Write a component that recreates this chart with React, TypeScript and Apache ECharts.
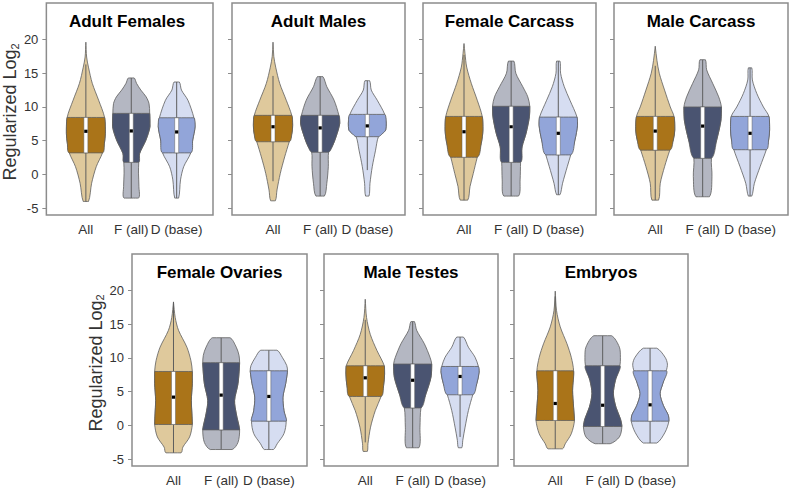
import React, { useEffect, useRef } from "react";
import * as echarts from "echarts";

const PANEL_TITLES = ["Adult Females", "Adult Males", "Female Carcass", "Male Carcass", "Female Ovaries", "Male Testes", "Embryos"];
const CATEGORIES = ["All", "F (all)", "D (base)"];
const Y_TICKS = [-5, 0, 5, 10, 15, 20];
const X_TICKS = [1, 2, 3];
const Y_NAME_PANELS = [0, 4];

// per panel: [All, F (all), D (base)]
const Q1 = [[3.2, 1.8, 3.2], [4.85, 3.3, 5.6], [2.55, 1.8, 2.9], [3.6, 2.4, 3.67], [0.15, -0.65, 0.64], [4.3, 2.6, 4.55], [0.74, -0.15, 0.64]];
const MEDIAN = [[6.4, 6.45, 6.3], [7.07, 6.9, 7.2], [6.33, 7.07, 6.1], [6.43, 7.17, 6.1], [4.2, 4.5, 4.3], [7.06, 6.7, 7.26], [3.26, 3.0, 3.06]];
const Q3 = [[8.45, 9.05, 8.4], [8.76, 8.76, 8.9], [8.6, 10.1, 8.5], [8.6, 10.0, 8.6], [8.0, 9.3, 8.1], [8.84, 9.1, 8.74], [8.1, 8.84, 8.1]];
const WHISKER_LOW = [[-4.0, -3.5, -3.5], [-1.0, -3.2, 0.65], [-3.8, -3.2, -3.0], [-3.8, -3.3, -3.2], [-4.05, -3.56, -3.56], [-2.5, -3.3, -1.7], [-3.46, -2.7, -2.6]];
const WHISKER_HIGH = [[16.3, 14.3, 13.7], [14.6, 14.5, 13.9], [17.7, 16.8, 16.8], [16.1, 17.0, 15.8], [18.3, 13.0, 11.15], [15.65, 15.4, 13.1], [19.1, 13.3, 11.45]];

// violin density profiles: [value, density]
const ADULT_FEMALES = [
  [[-4.0, 2.7], [-1.3, 6], [1.15, 10.8], [3.2, 17.3], [4.6, 19.3], [6.1, 20.3], [8.45, 19.5], [11, 13.3], [13.5, 6.7], [15.9, 2.7], [17.4, 0.8], [19.6, 0]],
  [[-3.5, 7.5], [-1.8, 8], [0.2, 7.5], [1.8, 7.8], [3.1, 8.7], [5.1, 15.3], [7.1, 19.5], [9.05, 19.2], [10.5, 18.5], [11.5, 15.5], [12.5, 10], [13.5, 5.5], [14.3, 3]],
  [[-3.5, 2], [-0.8, 4], [1.15, 7.3], [3.2, 14.7], [5.1, 16.7], [7.1, 19.2], [8.4, 18], [11, 11.7], [12.5, 5], [13.7, 2.7]],
];
const ADULT_MALES = [
  [[-3.9, 2.3], [-2.3, 4], [0.15, 7.3], [2.6, 11.7], [4.85, 16.3], [6.1, 19], [7.3, 19.7], [8.76, 18.8], [11, 13.3], [13.5, 6.7], [15.9, 2.7], [17.5, 0.8], [19.6, 0]],
  [[-3.2, 4.2], [-1.3, 6.7], [1.15, 8.2], [3.3, 8.5], [4.1, 12], [5.6, 16], [7.6, 19.7], [8.76, 18.8], [11, 14], [13, 6.7], [14.5, 2.7]],
  [[-3.2, 1.7], [-1.3, 2.7], [1.15, 5], [3.6, 8.3], [5.6, 11.2], [6.1, 15.5], [6.6, 18.5], [7.6, 19], [8.9, 17.5], [11, 10], [12.5, 4], [13.9, 2.3]],
];
const FEMALE_CARCASS = [
  [[-3.8, 3.7], [-1.8, 6], [0.15, 9.3], [2.55, 13.3], [4.6, 17.3], [6.6, 19], [8.6, 18.3], [11, 13.3], [13.5, 7.3], [15.9, 2.7], [17.9, 1], [19.4, 0]],
  [[-3.2, 7.3], [-0.8, 9], [1.8, 9.5], [4.1, 11], [6.1, 15], [8.55, 18.3], [10.1, 18.7], [11.5, 16.7], [13, 11.7], [15, 4.7], [16.8, 2.7]],
  [[-3.0, 1.7], [-1.3, 4.3], [1.15, 9], [2.9, 12.5], [5.1, 16.7], [7.3, 19.3], [8.5, 18.8], [11, 11.7], [13, 6], [15, 2.3], [16.8, 1.7]],
];
const MALE_CARCASS = [
  [[-3.8, 3.3], [-1.3, 5], [1.15, 9.3], [3.6, 14.5], [5.1, 18], [6.6, 19.5], [8.6, 18.7], [10, 15], [12.5, 9.3], [15, 4], [16.9, 1.7], [19.0, 0]],
  [[-3.3, 6.7], [-0.3, 9.3], [2.4, 8.8], [5.1, 14], [8.06, 18.3], [10, 18.7], [11.5, 16], [13.5, 10], [15.5, 4], [17.0, 2.7]],
  [[-3.2, 1.7], [-1.3, 4.3], [1.15, 10], [3.67, 16.2], [5.1, 18.5], [6.6, 19.5], [8.6, 18.8], [10, 13.3], [12, 6.7], [14, 2.3], [15.8, 1.7]],
];
const FEMALE_OVARIES = [
  [[-4.05, 7.5], [-3.2, 9.3], [-1.7, 16], [0.15, 18.7], [1.73, 18.3], [3.7, 17.7], [6.2, 18.7], [8.0, 18.7], [9.6, 17.3], [11.6, 13.3], [14.1, 5], [16.0, 1.7], [18.3, 0]],
  [[-3.56, 10.8], [-2.5, 16.7], [-0.65, 18.3], [1.73, 15], [3.7, 13.3], [6.2, 16.7], [9.3, 18.3], [10.4, 17.7], [11.6, 15], [13.0, 8.7]],
  [[-3.56, 4.5], [-2.7, 8.3], [-1.2, 15], [0.64, 17.2], [2.2, 15], [4.2, 14], [6.2, 16.7], [8.1, 18.5], [8.9, 17.7], [10.1, 13.3], [11.15, 8]],
];
const MALE_TESTES = [
  [[-3.85, 2], [-2.7, 2.7], [-0.25, 5.3], [2.2, 10], [4.3, 15.8], [5.9, 18.3], [7.6, 19.3], [8.84, 19], [11.1, 11.7], [13.5, 5], [16.0, 1.3], [18.7, 0]],
  [[-3.3, 6.2], [-0.25, 7.3], [2.6, 8.3], [4.7, 13.3], [7.16, 18.3], [9.1, 19], [10.1, 17.3], [12.1, 11.7], [14.1, 4], [15.4, 1.7]],
  [[-3.3, 1.7], [-2.2, 2.7], [-0.25, 5], [2.2, 8.3], [4.55, 12.7], [6.2, 16.7], [7.9, 19], [8.74, 18.3], [10.1, 15], [11.6, 8.3], [13.1, 3.3]],
];
const EMBRYOS = [
  [[-3.46, 7.2], [-2.7, 10], [-1.23, 16], [0.74, 19.2], [2.7, 18.3], [5.2, 17.3], [8.1, 18.3], [10.1, 16], [12.1, 11.7], [14.6, 5], [17.0, 1.3], [19.9, 0]],
  [[-2.7, 7.5], [-1.7, 16.7], [-0.15, 19.2], [1.0, 17.7], [2.7, 13.3], [4.7, 10.7], [6.67, 12.7], [8.84, 17.2], [10.1, 17.7], [11.6, 16.7], [13.3, 8.8]],
  [[-2.6, 6.7], [-0.99, 15], [0.64, 18.8], [1.48, 18.3], [2.96, 13.3], [4.7, 10], [6.2, 12.7], [8.1, 16.2], [9.1, 17.3], [10.1, 15], [11.45, 6.7]],
];
const PROFILES = [ADULT_FEMALES, ADULT_MALES, FEMALE_CARCASS, MALE_CARCASS, FEMALE_OVARIES, MALE_TESTES, EMBRYOS];

// styling / layout
const FONT = "'Liberation Sans', Arial, Helvetica, sans-serif";
const LIGHT = ["#dfc99c", "#b4b7c2", "#d6ddf1"];
const DARK = ["#aa7419", "#4a5471", "#92a5d9"];
const OUTLINE = "#5e5e5e";
const FRAME = "#8c8c8c";
const DENSITY_TO_X = 1 / 47.3;
const X_MIN = 0.13;
const X_MAX = 3.8;
const Y_MIN = -6;
const Y_MAX = 25.4;
const GRIDS = [
  { left: 41, top: 3, width: 172, height: 212 },
  { left: 232, top: 3, width: 173, height: 212 },
  { left: 423, top: 3, width: 173, height: 212 },
  { left: 614, top: 3, width: 174, height: 212 },
  { left: 132, top: 254, width: 175, height: 212 },
  { left: 324, top: 254, width: 174, height: 212 },
  { left: 514, top: 254, width: 174, height: 212 },
];

function widthAt(prof: number[][], v: number): number {
  for (let i = 0; i < prof.length - 1; i++) {
    const [v0, w0] = prof[i];
    const [v1, w1] = prof[i + 1];
    if (v >= v0 && v <= v1) {
      const t = v1 === v0 ? 0 : (v - v0) / (v1 - v0);
      return w0 + (w1 - w0) * t;
    }
  }
  return v < prof[0][0] ? prof[0][1] : prof[prof.length - 1][1];
}

function makeRenderItem(p: number) {
  return (params: any, api: any) => {
    const xc = api.value(0);
    const c = api.value(1);
    const prof = PROFILES[p][c];
    const cx = api.coord([xc, 0])[0];
    const pxPerX = api.size([1, 0])[0];
    const s = pxPerX * DENSITY_TO_X;
    const yOf = (v: number) => api.coord([xc, v])[1];
    const toPoly = (pts: number[][]) => {
      const right = pts.map(([v, w]) => [cx + w * s, yOf(v)]);
      const left = pts.slice().reverse().map(([v, w]) => [cx - w * s, yOf(v)]);
      return right.concat(left);
    };
    const bbox = (pts: number[][]) => {
      let x0 = Infinity, y0 = Infinity, x1 = -Infinity, y1 = -Infinity;
      pts.forEach(([x, y]) => { x0 = Math.min(x0, x); y0 = Math.min(y0, y); x1 = Math.max(x1, x); y1 = Math.max(y1, y); });
      return [[x0, y0], [x1, y1]];
    };
    const outer = toPoly(prof);
    const q1 = Q1[p][c], q3 = Q3[p][c];
    const bandPts = [[q1, widthAt(prof, q1)]]
      .concat(prof.filter(([v]) => v > q1 && v < q3))
      .concat([[q3, widthAt(prof, q3)]]);
    const band = toPoly(bandPts);
    const yq1 = yOf(q1), yq3 = yOf(q3);
    const ym = yOf(MEDIAN[p][c]);
    return {
      type: "group",
      children: [
        { type: "polygon", shape: { points: outer, smooth: 0.3, smoothConstraint: bbox(outer) }, style: { fill: LIGHT[c], stroke: OUTLINE, lineWidth: 0.8 } },
        { type: "polygon", shape: { points: band, smooth: 0.3, smoothConstraint: bbox(band) }, style: { fill: DARK[c], stroke: OUTLINE, lineWidth: 0.8 } },
        { type: "line", shape: { x1: cx, y1: yOf(WHISKER_LOW[p][c]), x2: cx, y2: yOf(WHISKER_HIGH[p][c]) }, style: { stroke: OUTLINE, lineWidth: 1 } },
        { type: "rect", shape: { x: cx - 2, y: yq3, width: 4, height: yq1 - yq3 }, style: { fill: "#ffffff", stroke: OUTLINE, lineWidth: 0.5 } },
        { type: "rect", shape: { x: cx - 1.6, y: ym - 1.6, width: 3.2, height: 3.2 }, style: { fill: "#000000" } },
      ],
    };
  };
}

export default function App() {
  const ref = useRef<HTMLDivElement>(null);
  useEffect(() => {
    if (!ref.current) return;
    const chart = echarts.init(ref.current, null, { renderer: "svg" });
    const option: any = {
      animation: false,
      textStyle: { fontFamily: FONT },
      grid: GRIDS.map((g) => ({ ...g, show: true, borderColor: FRAME, borderWidth: 1.5, backgroundColor: "transparent" })),
      xAxis: GRIDS.map((g, i) => ({
        type: "value",
        gridIndex: i,
        min: X_MIN,
        max: X_MAX,
        splitLine: { show: false },
        axisLine: { show: false },
        axisTick: { show: true, customValues: X_TICKS, length: 4, lineStyle: { color: FRAME, width: 1 } },
        axisLabel: {
          customValues: X_TICKS,
          formatter: (v: number) => CATEGORIES[Math.round(v) - 1] ?? "",
          color: "#333333",
          fontSize: 13.5,
          margin: 7,
          fontFamily: FONT,
        },
      })),
      yAxis: GRIDS.map((g, i) => ({
        type: "value",
        gridIndex: i,
        min: Y_MIN,
        max: Y_MAX,
        splitLine: { show: false },
        axisLine: { show: false },
        axisTick: { show: true, customValues: Y_TICKS, length: 4, lineStyle: { color: FRAME, width: 1 } },
        axisLabel: {
          show: Y_NAME_PANELS.includes(i),
          customValues: Y_TICKS,
          color: "#333333",
          fontSize: 13,
          margin: 8,
          fontFamily: FONT,
        },
        name: Y_NAME_PANELS.includes(i) ? "{main|Regularized Log}{sub|2}" : "",
        nameLocation: "middle",
        nameGap: 25,
        nameRotate: 90,
        nameTextStyle: {
          color: "#333333",
          fontFamily: FONT,
          padding: [0, 6, 0, 0],
          rich: {
            main: { fontSize: 18, fontFamily: FONT, color: "#333333", verticalAlign: "top" },
            sub: { fontSize: 11, fontFamily: FONT, color: "#333333", verticalAlign: "bottom", padding: [8, 0, 0, 0] },
          },
        },
      })),
      series: GRIDS.map((g, i) => ({
        type: "custom",
        xAxisIndex: i,
        yAxisIndex: i,
        clip: false,
        silent: true,
        renderItem: makeRenderItem(i),
        encode: { x: 0, y: 1 },
        data: CATEGORIES.map((_, k) => [k + 1, k]),
      })),
      graphic: GRIDS.map((g, i) => ({
        type: "text",
        x: g.left + g.width / 2,
        y: g.top + 18,
        style: {
          text: PANEL_TITLES[i],
          textAlign: "center",
          textVerticalAlign: "middle",
          font: `bold 17px ${FONT}`,
          fill: "#000000",
        },
      })),
    };
    chart.setOption(option);
    return () => chart.dispose();
  }, []);
  return <div ref={ref} style={{ position: "fixed", left: 0, top: 0, width: 792, height: 489, background: "#ffffff" }} />;
}
